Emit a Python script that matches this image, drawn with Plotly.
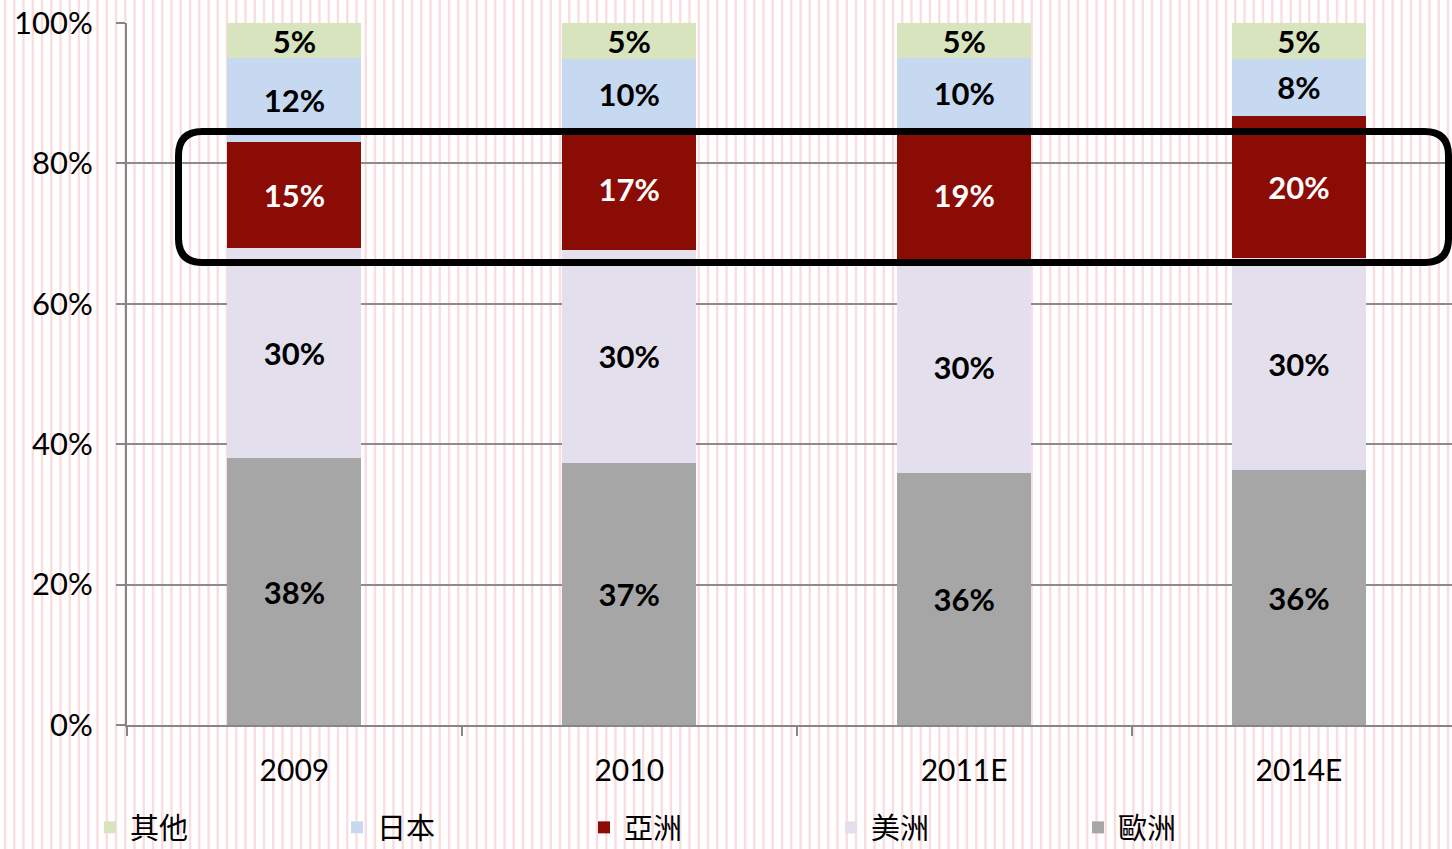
import plotly.graph_objects as go

categories = ["2009", "2010", "2011E", "2014E"]
series_names = ["歐洲", "美洲", "亞洲", "日本", "其他"]
europe = [38.0, 37.3, 35.9, 36.3]
americas = [30.0, 30.4, 30.1, 30.2]
asia = [15.0, 17.3, 19.0, 20.3]
japan = [12.0, 9.9, 10.0, 8.1]
other = [5.0, 5.1, 5.0, 5.1]
europe_lbl = ["38%", "37%", "36%", "36%"]
americas_lbl = ["30%", "30%", "30%", "30%"]
asia_lbl = ["15%", "17%", "19%", "20%"]
japan_lbl = ["12%", "10%", "10%", "8%"]
other_lbl = ["5%", "5%", "5%", "5%"]
y_ticks = [0, 20, 40, 60, 80, 100]
y_tick_text = ["0%", "20%", "40%", "60%", "80%", "100%"]

colors = ["#a6a6a6", "#e4dfec", "#8b0c05", "#c6d9f1", "#d7e4bd"]
text_colors = ["#000000", "#000000", "#ffffff", "#000000", "#000000"]
values = [europe, americas, asia, japan, other]
labels = [europe_lbl, americas_lbl, asia_lbl, japan_lbl, other_lbl]

W, H = 1452, 849
ML, MR, MT, MB = 127, 0, 23, 124
PW, PH = W - ML - MR, H - MT - MB

def px_x(x):
    return (x - ML) / PW

def px_y(y):
    return (H - MB - y) / PH

fig = go.Figure()
for name, vals, lbl, c, tc in zip(series_names, values, labels, colors, text_colors):
    fig.add_trace(go.Bar(
        x=categories, y=vals, name=name, text=lbl, texttemplate="%{text}",
        textposition="inside", insidetextanchor="middle", textangle=0,
        marker=dict(color=c, line=dict(width=0)),
        textfont=dict(family="Lato", size=31, color=tc, weight="bold"),
        width=0.4, hoverinfo="skip",
    ))

# striped background
parts = []
k = 0
while True:
    x0 = 5 + 9.25 * k - 1.2
    if x0 > W:
        break
    x1 = x0 + 2.4
    parts.append(f"M{px_x(x0):.5f},{px_y(H):.5f} L{px_x(x1):.5f},{px_y(H):.5f} "
                 f"L{px_x(x1):.5f},{px_y(0):.5f} L{px_x(x0):.5f},{px_y(0):.5f} Z")
    k += 1
shapes = [dict(type="path", xref="paper", yref="paper", path=" ".join(parts),
               fillcolor="#fadde1", line=dict(width=0), layer="below")]

# rounded highlight rectangle
L, R, T, B, r = 178.5, 1448.5, 131.5, 262.5, 24
rx, ry = r, r
path = (f"M{px_x(L+rx)},{px_y(T)} L{px_x(R-rx)},{px_y(T)} "
        f"Q{px_x(R)},{px_y(T)} {px_x(R)},{px_y(T+ry)} "
        f"L{px_x(R)},{px_y(B-ry)} Q{px_x(R)},{px_y(B)} {px_x(R-rx)},{px_y(B)} "
        f"L{px_x(L+rx)},{px_y(B)} Q{px_x(L)},{px_y(B)} {px_x(L)},{px_y(B-ry)} "
        f"L{px_x(L)},{px_y(T+ry)} Q{px_x(L)},{px_y(T)} {px_x(L+rx)},{px_y(T)} Z")
shapes.append(dict(type="path", xref="paper", yref="paper", path=path,
                   line=dict(color="#000000", width=7), fillcolor="rgba(0,0,0,0)",
                   layer="above"))

fig.update_layout(
    width=W, height=H, barmode="stack",
    margin=dict(l=ML, r=MR, t=MT, b=MB, autoexpand=False),
    paper_bgcolor="#ffffff", plot_bgcolor="rgba(0,0,0,0)",
    shapes=shapes,
    uniformtext=dict(minsize=31, mode="show"),
    font=dict(family="Lato", size=29, color="#000000"),
    showlegend=True,
    legend=dict(orientation="h", traceorder="reversed", x=px_x(90), xanchor="left",
                y=px_y(802), yanchor="top", entrywidth=202, entrywidthmode="pixels",
                font=dict(family="Noto Sans CJK TC", size=29, color="#000000"),
                bgcolor="rgba(0,0,0,0)", itemclick=False),
    xaxis=dict(type="category", range=[-0.5, 3.457], tickson="boundaries",
               ticks="outside", ticklen=9, tickwidth=2, tickcolor="#868686",
               showline=True, linecolor="#868686", linewidth=2, showgrid=False,
               tickfont=dict(family="Lato", size=30), ticklabelstandoff=18,
               automargin=False),
    yaxis=dict(range=[0, 100], tickvals=y_ticks, ticktext=y_tick_text,
               ticks="outside", ticklen=9, tickwidth=2, tickcolor="#868686",
               showline=True, linecolor="#868686", linewidth=2,
               showgrid=True, gridcolor="#8c8c8c", gridwidth=1.5,
               tickfont=dict(family="Lato", size=31), ticklabelstandoff=17,
               automargin=False, zeroline=False),
)

fig.write_html("out.html", config={"displayModeBar": False},
               post_script="document.body.style.margin='0';")
